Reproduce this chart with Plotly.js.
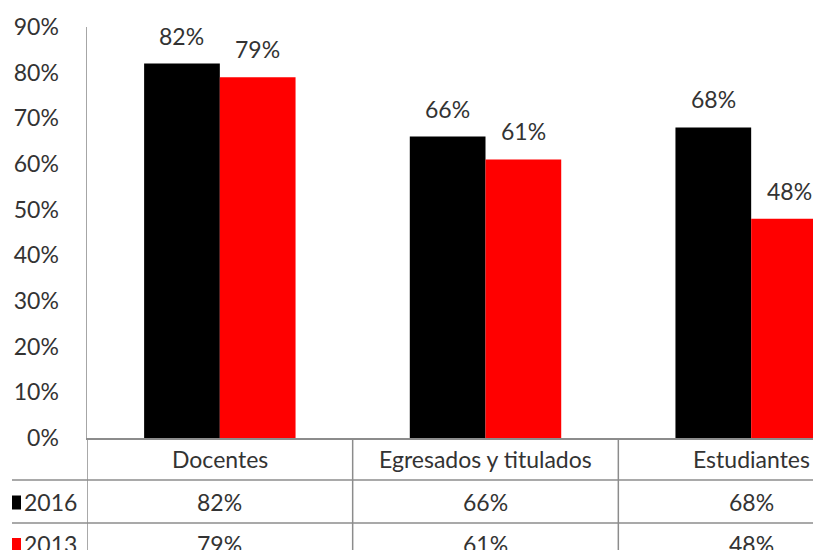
<!DOCTYPE html>
<html>
<head>
<meta charset="utf-8">
<script src="https://cdn.plot.ly/plotly-3.0.1.min.js"></script>
<style>
html,body{margin:0;padding:0;overflow:hidden;background:#fff;}
#chart{width:900px;height:550px;}
</style>
</head>
<body>
<div id="chart"></div>
<script>
// ---- data ----
const categories = ["Docentes", "Egresados y titulados", "Estudiantes"];
const seriesNames = ["2016", "2013"];
const values2016 = [82, 66, 68];
const values2013 = [79, 61, 48];
const yTickVals = [0, 10, 20, 30, 40, 50, 60, 70, 80, 90];

// ---- styling / layout constants ----
const W = 900, H = 550;
const mL = 87, mR = 16, mT = 27, mB = 112;
const plotW = W - mL - mR, plotH = H - mT - mB;
const FONT = "Lato, 'Open Sans', sans-serif";
const TXT = "#333333";
const FS = 23;
const LINE = "#8c8c8c";
const colors = ["#000000", "#ff0000"];
const seriesVals = [values2016, values2013];

const px2py = p => -p / plotH;           // pixels below x-axis -> paper y
const px2px = p => (p - mL) / plotW;     // absolute pixel x -> paper x

const traces = seriesNames.map((n, i) => ({
  type: "bar",
  name: n,
  x: categories,
  y: seriesVals[i].map(v => v / 100),
  marker: {color: colors[i], line: {width: 0}},
  hoverinfo: "skip"
}));

const annotations = [];
const shapes = [];
const bwHalf = plotW / categories.length * (1 - 0.43) / 4;

// data labels above bars
seriesVals.forEach((vals, i) => {
  vals.forEach((v, j) => {
    annotations.push({
      xref: "x", yref: "y", x: categories[j], y: v / 100,
      xshift: (i === 0 ? -1 : 1) * bwHalf, yshift: 12,
      yanchor: "bottom", xanchor: "center", showarrow: false,
      text: v + "%", font: {family: FONT, size: FS, color: TXT}
    });
  });
});

// data table
const row1 = 42, row2 = 85, row3 = 127;
// horizontal lines
[row1, row2].forEach(r => shapes.push({
  type: "line", xref: "paper", yref: "paper",
  x0: px2px(12), x1: 1.2, y0: px2py(r), y1: px2py(r),
  line: {color: LINE, width: 1.5}
}));
// vertical lines
[-0.5, 0.5, 1.5, 2.5].forEach(xv => shapes.push({
  type: "line", xref: "x", yref: "paper",
  x0: xv, x1: xv, y0: 0, y1: px2py(row3 + 20),
  line: {color: LINE, width: 1.5}
}));
// category labels
categories.forEach(c => annotations.push({
  xref: "x", yref: "paper", x: c, y: px2py(row1 / 2),
  yanchor: "middle", showarrow: false, text: c,
  font: {family: FONT, size: FS, color: TXT}
}));
// row values + legend keys
const rowCenters = [(row1 + row2) / 2, (row2 + row3) / 2];
seriesVals.forEach((vals, i) => {
  const yc = rowCenters[i];
  vals.forEach((v, j) => annotations.push({
    xref: "x", yref: "paper", x: categories[j], y: px2py(yc),
    yanchor: "middle", showarrow: false, text: v + "%",
    font: {family: FONT, size: FS, color: TXT}
  }));
  annotations.push({
    xref: "paper", yref: "paper", x: px2px(22), y: px2py(yc),
    xanchor: "left", yanchor: "middle", showarrow: false, text: seriesNames[i],
    font: {family: FONT, size: FS, color: TXT}
  });
  shapes.push({
    type: "rect", xref: "paper", yref: "paper",
    x0: px2px(12), x1: px2px(21), y0: px2py(yc - 6), y1: px2py(yc + 8),
    fillcolor: colors[i], line: {width: 0}
  });
});

const layout = {
  width: W, height: H,
  margin: {l: mL, r: mR, t: mT, b: mB, pad: 0},
  paper_bgcolor: "#ffffff", plot_bgcolor: "#ffffff",
  showlegend: false,
  barmode: "group", bargap: 0.43, bargroupgap: 0,
  font: {family: FONT, size: FS, color: TXT},
  xaxis: {
    type: "category", range: [-0.5, 2.5], showticklabels: false,
    showline: true, linecolor: LINE, linewidth: 1.5, ticks: "", showgrid: false,
    zeroline: false, fixedrange: true
  },
  yaxis: {
    range: [0, 0.9], tickvals: yTickVals.map(v => v / 100),
    ticktext: yTickVals.map(v => v + "%"),
    showline: true, linecolor: "#a6a6a6", linewidth: 1.5, ticks: "",
    showgrid: false, zeroline: false, ticklabelstandoff: 22,
    tickfont: {family: FONT, size: FS, color: TXT}, fixedrange: true
  },
  annotations: annotations,
  shapes: shapes
};

Plotly.newPlot("chart", traces, layout, {staticPlot: true, displayModeBar: false});
</script>
</body>
</html>
